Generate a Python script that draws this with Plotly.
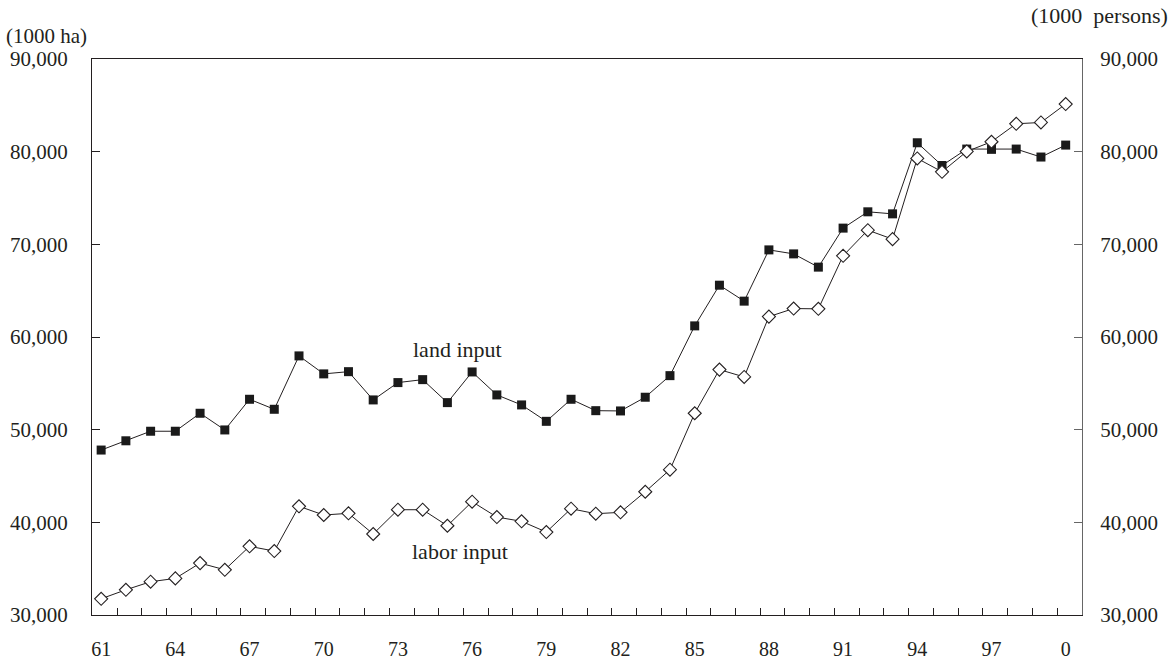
import plotly.graph_objects as go

# Year labels (1961-2000) and the two input series
years = [f"{y % 100}" for y in range(1961, 2001)]
land_input = [47800, 48800, 49830, 49830, 51770, 49970, 53280, 52200, 57960, 56020,
              56260, 53210, 55080, 55400, 52920, 56230, 53750, 52670, 50900, 53280,
              52050, 52020, 53500, 55830, 61200, 65590, 63870, 69400, 68970, 67540,
              71750, 73510, 73290, 80960, 78510, 80280, 80250, 80280, 79420, 80710]
labor_input = [31750, 32720, 33590, 33950, 35600, 34880, 37410, 36900, 41730, 40790,
               40970, 38740, 41360, 41360, 39630, 42230, 40570, 40110, 38950, 41470,
               40930, 41080, 43300, 45680, 51770, 56480, 55690, 62200, 63070, 63040,
               68760, 71530, 70560, 79270, 77830, 80020, 81070, 83010, 83150, 85140]
y_ticks = [30000, 40000, 50000, 60000, 70000, 80000, 90000]

idx = list(range(len(years)))
label_idx = idx[::3]
label_txt = [years[i] for i in label_idx]
boundary_ticks = [i + 0.65 for i in range(len(years) - 1)]

FONT = "Liberation Serif"
INK = "#231f20"

fig = go.Figure()
fig.add_trace(go.Scatter(
    x=idx, y=land_input, mode="lines+markers", name="land input",
    line=dict(color=INK, width=1),
    marker=dict(symbol="square", size=9, color="#1a1a1a", line=dict(width=0)),
    showlegend=False, xaxis="x", yaxis="y"))
fig.add_trace(go.Scatter(
    x=idx, y=labor_input, mode="lines+markers", name="labor input",
    line=dict(color=INK, width=1),
    marker=dict(symbol="diamond", size=10, color="white", line=dict(color=INK, width=1.1)),
    showlegend=False, xaxis="x", yaxis="y2"))

fig.update_layout(
    width=1173, height=660,
    margin=dict(l=92, r=91, t=59, b=45),
    paper_bgcolor="white", plot_bgcolor="white",
    font=dict(family=FONT, size=21, color=INK),
    xaxis=dict(
        range=[-0.37, 39.66], showgrid=False, zeroline=False, automargin=False,
        tickmode="array", tickvals=label_idx, ticktext=label_txt, ticks="",
        ticklabelstandoff=16, tickfont=dict(size=20),
        minor=dict(tickmode="array", tickvals=boundary_ticks, ticks="inside",
                   ticklen=7, tickcolor=INK, showgrid=False),
        showline=True, linecolor=INK, linewidth=1, mirror=True,
    ),
    yaxis=dict(
        range=[30000, 90000], showgrid=False, zeroline=False, automargin=False,
        tickmode="array", tickvals=y_ticks, tickformat=",d",
        ticks="inside", ticklen=8, tickcolor=INK,
        ticklabelstandoff=19,
        showline=True, linecolor=INK, linewidth=1,
    ),
    yaxis2=dict(
        range=[30000, 90000], overlaying="y", side="right", showgrid=False,
        zeroline=False, automargin=False, tickmode="array", tickvals=y_ticks,
        tickformat=",d", ticks="inside", ticklen=8, tickcolor="#666",
        ticklabelstandoff=13,
        showline=True, linecolor="#666", linewidth=1,
    ),
    annotations=[
        dict(text="(1000 ha)", xref="paper", yref="paper", x=-0.089, y=1.0,
             xanchor="left", yanchor="middle", yshift=23, showarrow=False,
             font=dict(family=FONT, size=21, color=INK)),
        dict(text="(1000  persons)", xref="paper", yref="paper", x=1.0,
             xanchor="right", xshift=88, y=1.0, yanchor="middle", yshift=44,
             showarrow=False, font=dict(family=FONT, size=22, color=INK)),
        dict(text="land input", xref="x", yref="y", x=14.4, y=58700,
             showarrow=False, font=dict(family=FONT, size=22, color=INK)),
        dict(text="labor input", xref="x", yref="y", x=14.5, y=36900,
             showarrow=False, font=dict(family=FONT, size=22, color=INK)),
    ],
)

fig.write_html("out.html")
